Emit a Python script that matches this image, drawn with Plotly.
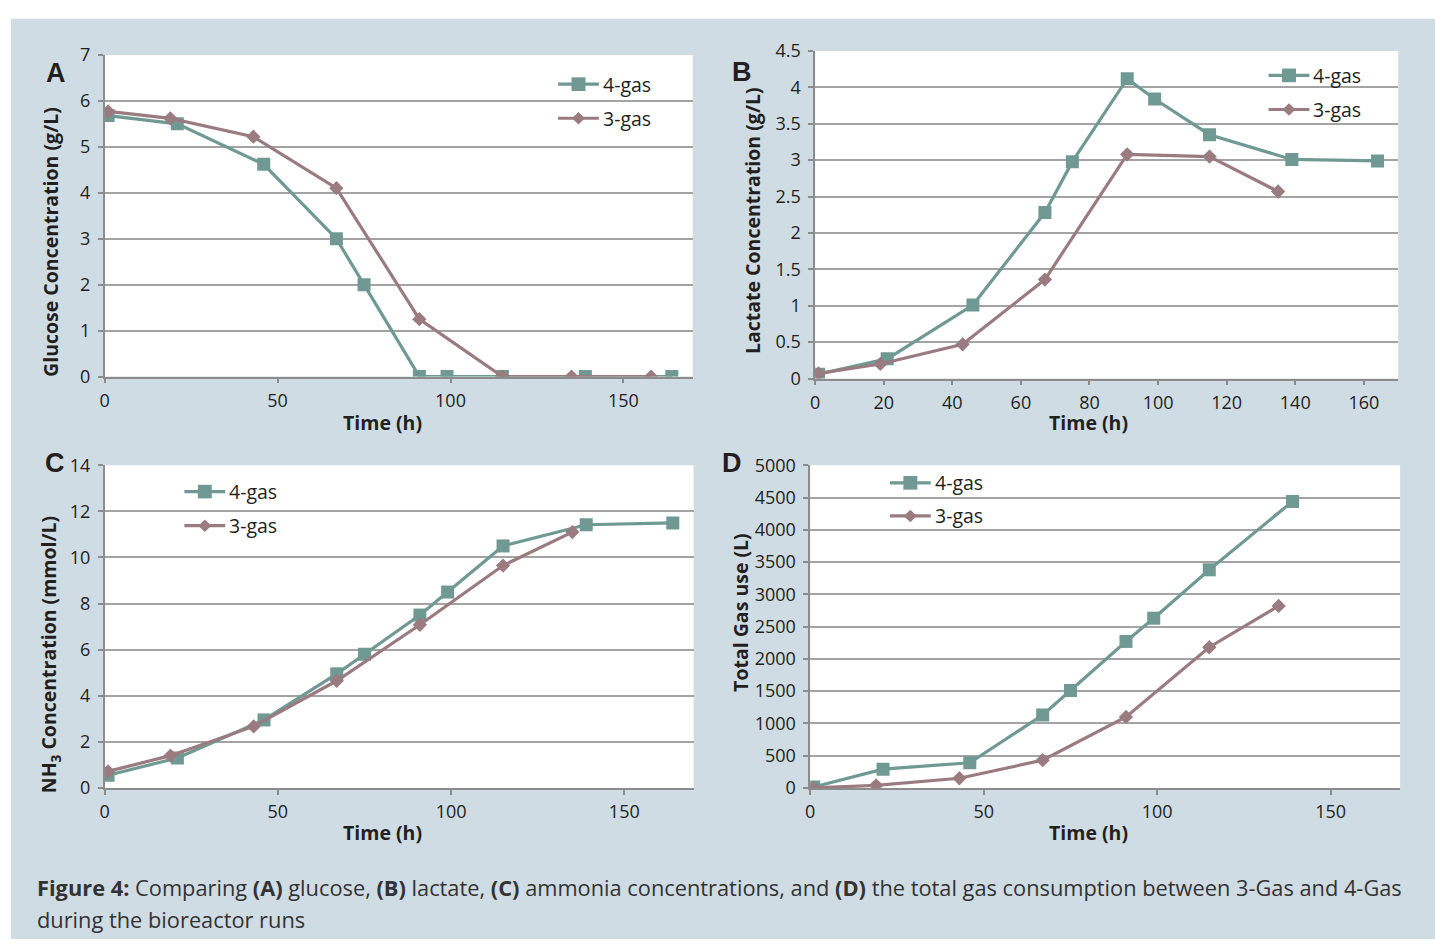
import plotly.graph_objects as go

# ---- data -------------------------------------------------------------
# sampling times (h)
t4 = [1, 21, 46, 67, 75, 91, 99, 115, 139, 164]
t3 = [1, 19, 43, 67, 91, 115, 135, 158]

# (A) glucose, g/L
glc_4 = [5.68, 5.5, 4.62, 3.0, 2.0, 0.0, 0.0, 0.0, 0.0, 0.0]
glc_3 = [5.77, 5.62, 5.22, 4.1, 1.25, 0.0, 0.0, 0.0]

# (B) lactate, g/L
lac_4 = [0.06, 0.27, 1.01, 2.28, 2.98, 4.12, 3.84, 3.35, 3.01, 2.99]
lac_3 = [0.07, 0.2, 0.47, 1.36, 3.08, 3.05, 2.57]

# (C) ammonia, mmol/L
nh3_4 = [0.55, 1.3, 2.95, 4.95, 5.8, 7.5, 8.5, 10.5, 11.42, 11.5]
nh3_3 = [0.72, 1.4, 2.67, 4.65, 7.08, 9.65, 11.1]

# (D) cumulative gas use, L
gas_4 = [15, 290, 390, 1130, 1510, 2270, 2630, 3380, 4440]
gas_3 = [0, 40, 150, 430, 1100, 2180, 2820]

series_names = ["4-gas", "3-gas"]

# ---- style ------------------------------------------------------------
W, H = 1435, 950
TEAL = "#6f9992"
MAUVE = "#9a7b80"
BG = "#cfdce4"
GRID = "#a3a3a3"
AXIS = "#8c8c8c"
TXT = "#231f20"
FONT = "Open Sans"


def px_x(p):
    return p / W


def px_y(p):
    return 1 - p / H


fig = go.Figure()

# panel geometry in pixels: (left, right, top, bottom)
boxes = {
    1: (100, 690, 43, 373),
    2: (813, 1398, 39, 375),
    3: (100, 691, 464, 795),
    4: (808, 1400, 464, 795),
}

panels = [
    # idx, x4, y4, x3, y3, yrange, ydtick, xdtick
    (1, t4, glc_4, t3, glc_3, [0, 7], 1, 50),
    (2, t4, lac_4, t3[:7], lac_3, [0, 4.5], 0.5, 20),
    (3, t4, nh3_4, t3[:7], nh3_3, [0, 14], 2, 50),
    (4, t4[:9], gas_4, t3[:7], gas_3, [0, 5000], 500, 50),
]

for idx, x4, y4, x3, y3, yr, ydt, xdt in panels:
    xa = "x" if idx == 1 else f"x{idx}"
    ya = "y" if idx == 1 else f"y{idx}"
    fig.add_trace(go.Scatter(
        x=x4, y=y4, name=series_names[0], mode="lines+markers",
        line=dict(color=TEAL, width=3.2),
        marker=dict(symbol="square", size=13, color=TEAL),
        xaxis=xa, yaxis=ya, showlegend=False,
    ))
    fig.add_trace(go.Scatter(
        x=x3, y=y3, name=series_names[1], mode="lines+markers",
        line=dict(color=MAUVE, width=3.2),
        marker=dict(symbol="diamond", size=11, color=MAUVE),
        xaxis=xa, yaxis=ya, showlegend=False,
    ))

    l, r, t, b = boxes[idx]
    xkey = "xaxis" if idx == 1 else f"xaxis{idx}"
    ykey = "yaxis" if idx == 1 else f"yaxis{idx}"
    fig.layout[xkey] = dict(
        domain=[px_x(l), px_x(r)], range=[0, 170], dtick=xdt, tick0=0,
        anchor=ya, showgrid=False, zeroline=False,
        showline=True, linecolor=AXIS, linewidth=1.5,
        ticks="outside", ticklen=5, tickcolor=AXIS, tickwidth=1.5,
        ticklabelstandoff=2,
        tickfont=dict(family=FONT, size=18, color=TXT),
    )
    fig.layout[ykey] = dict(
        domain=[px_y(b), px_y(t)], range=yr, dtick=ydt, tick0=0,
        anchor=xa, showgrid=True, gridcolor=GRID, gridwidth=1.5,
        zeroline=False, showline=True, linecolor=AXIS, linewidth=1.5,
        ticks="outside", ticklen=5, tickcolor=AXIS, tickwidth=1.5,
        ticklabelstandoff=4,
        tickfont=dict(family=FONT, size=18, color=TXT),
    )

# plot-area fills and the outer background
shapes = [dict(type="rect", xref="paper", yref="paper",
               x0=px_x(6), x1=1, y0=0, y1=px_y(6),
               fillcolor=BG, line=dict(width=0), layer="below")]
for idx, (l, r, t, b) in boxes.items():
    shapes.append(dict(type="rect", xref="paper", yref="paper",
                       x0=px_x(l), x1=px_x(r), y0=px_y(b), y1=px_y(t),
                       fillcolor="white", line=dict(width=0), layer="below"))

annotations = []

# per-panel legend keys: line sample + marker glyph + label
# (line start x, label x, first row y, second row y) in pixels
legend_rows = {
    1: (555, 598, 73, 108),
    2: (1268, 1311, 64, 99),
    3: (180, 223, 491, 526),
    4: (888, 931, 482, 516),
}
for idx, (lx0, tx, ya_, yb_) in legend_rows.items():
    lx1 = tx - 2
    mx = (lx0 + lx1) / 2
    for name, col, sym, yy in [(series_names[0], TEAL, "square", ya_),
                               (series_names[1], MAUVE, "diamond", yb_)]:
        shapes.append(dict(type="line", xref="paper", yref="paper",
                           x0=px_x(lx0), x1=px_x(lx1),
                           y0=px_y(yy), y1=px_y(yy),
                           line=dict(color=col, width=3.2)))
        if sym == "square":
            s = 7
            shapes.append(dict(type="rect", xref="paper", yref="paper",
                               x0=px_x(mx - s), x1=px_x(mx + s),
                               y0=px_y(yy + s), y1=px_y(yy - s),
                               fillcolor=col, line=dict(width=0)))
        else:
            s = 6.5
            path = (f"M {px_x(mx)},{px_y(yy - s)} L {px_x(mx + s)},{px_y(yy)} "
                    f"L {px_x(mx)},{px_y(yy + s)} L {px_x(mx - s)},{px_y(yy)} Z")
            shapes.append(dict(type="path", xref="paper", yref="paper",
                               path=path, fillcolor=col, line=dict(width=0)))
        annotations.append(dict(text=name, x=px_x(tx), y=px_y(yy),
                                xref="paper", yref="paper", showarrow=False,
                                xanchor="left", yanchor="middle",
                                font=dict(family=FONT, size=19.5, color=TXT)))

# axis titles
x_titles = [(379, 420), (1087, 420), (379, 841), (1087, 841)]
for cx, cy in x_titles:
    annotations.append(dict(text="<b>Time (h)</b>", x=px_x(cx), y=px_y(cy),
                            xref="paper", yref="paper", showarrow=False,
                            xanchor="center", yanchor="middle",
                            font=dict(family=FONT, size=19.5, color=TXT)))
y_titles = [
    ("Glucose Concentration (g/L)", 45, 235),
    ("Lactate Concentration (g/L)", 750, 213),
    ("NH<sub>3</sub> Concentration (mmol/L)", 45, 658),
    ("Total Gas use (L)", 738, 615),
]
for txt, cx, cy in y_titles:
    annotations.append(dict(text=f"<b>{txt}</b>", x=px_x(cx), y=px_y(cy),
                            xref="paper", yref="paper", showarrow=False,
                            textangle=-90, xanchor="center", yanchor="middle",
                            font=dict(family=FONT, size=19.5, color=TXT)))
# panel letters
letters = [("A", 51, 62), ("B", 740, 61), ("C", 50, 462), ("D", 730, 462)]
for ch, cx, cy in letters:
    annotations.append(dict(text=f"<b>{ch}</b>", x=px_x(cx), y=px_y(cy),
                            xref="paper", yref="paper", showarrow=False,
                            xanchor="center", yanchor="middle",
                            font=dict(family="Liberation Sans", size=27,
                                      color=TXT)))
# caption
caption = [
    ("<b>Figure 4:</b> Comparing <b>(A)</b> glucose, <b>(B)</b> lactate, "
     "<b>(C)</b> ammonia concentrations, and <b>(D)</b> the total gas "
     "consumption between 3-Gas and 4-Gas", 897),
    ("during the bioreactor runs", 930),
]
for txt, cy in caption:
    annotations.append(dict(text=txt, x=px_x(30), y=px_y(cy),
                            xref="paper", yref="paper", showarrow=False,
                            xanchor="left", yanchor="middle",
                            font=dict(family=FONT, size=21.8, color="#333333")))

fig.update_layout(
    width=W, height=H, margin=dict(l=0, r=0, t=0, b=0),
    paper_bgcolor="white", plot_bgcolor="rgba(0,0,0,0)",
    shapes=shapes, annotations=annotations, showlegend=False,
)

fig.write_html(
    "out.html",
    config={"displayModeBar": False},
    post_script="document.body.style.margin='0';"
                "document.body.style.overflow='hidden';",
)
